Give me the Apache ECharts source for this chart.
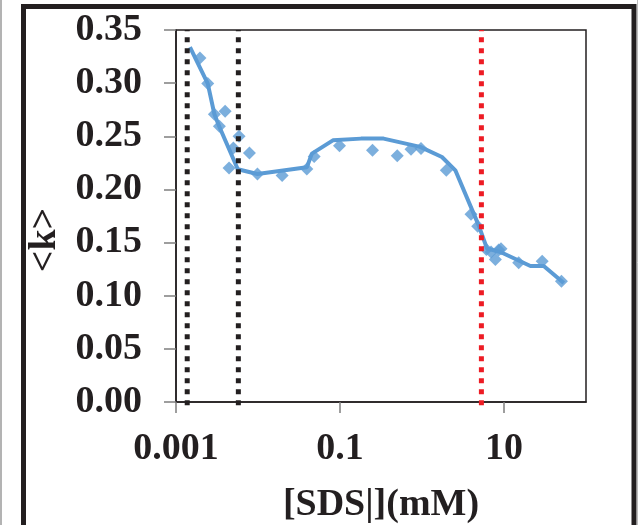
<!DOCTYPE html>
<html>
<head>
<meta charset="utf-8">
<script src="https://cdn.jsdelivr.net/npm/echarts@6/dist/echarts.min.js"></script>
<style>
  html, body { margin: 0; padding: 0; background: #ffffff; }
  #chart { width: 641px; height: 525px; }
</style>
</head>
<body>
<div id="chart"></div>
<script>
// Measured mean degree <k> versus SDS concentration (mM)
const sdsConc = [0.00196, 0.00244, 0.00294, 0.00397, 0.00338, 0.00501, 0.00588, 0.00444,
  0.00786, 0.00984, 0.0197, 0.0394, 0.0484, 0.0986, 0.249, 0.499, 0.734, 0.972,
  1.98, 3.96, 4.78, 6.10, 6.95, 7.85, 9.2, 8.6, 15.1, 29.2, 50.2];
const meanK = [0.3237, 0.2996, 0.2707, 0.2735, 0.2594, 0.2390, 0.2500, 0.2202,
  0.2343, 0.2145, 0.2130, 0.2192, 0.2309, 0.2412, 0.2368, 0.2318, 0.2377, 0.2384,
  0.2180, 0.1766, 0.1653, 0.1434, 0.1411, 0.1340, 0.1443, 0.1430, 0.1311, 0.1324, 0.1136];

// Trend line through the measurements
const trendConc = [0.00148, 0.00244, 0.00294, 0.00338, 0.00567, 0.00984, 0.0394, 0.0454,
  0.0819, 0.18, 0.34, 0.95, 1.75, 2.55, 4.91, 6.21, 9.04, 21.0, 30.5, 53.6];
const trendK = [0.334, 0.2996, 0.2707, 0.259, 0.219, 0.2145, 0.2208, 0.2337,
  0.2462, 0.2478, 0.2478, 0.240, 0.2305, 0.218, 0.1662, 0.1443, 0.1411, 0.128, 0.128, 0.112];

// Transition concentrations marked with dotted verticals
const blackMarks = [0.00137, 0.00576];
const redMarks = [5.3];
const markSpan = [-0.003, 0.35];

// Axis ticks
const xTicks = [0.001, 0.1, 10];

const ink = '#231f20';
const blue = '#5b9bd5';
const red = '#ed1c24';
const font = 'Liberation Serif';

// one dotted vertical series per marked concentration
function markSeries(x, color) {
  return {
    type: 'line',
    data: markSpan.map(y => [x, y]),
    symbol: 'none', showSymbol: false, silent: true, clip: false,
    lineStyle: { color: color, width: 5, type: [5, 6], cap: 'butt' },
    z: 5
  };
}

const chart = echarts.init(document.getElementById('chart'), null, { renderer: 'canvas' });

chart.setOption({
  backgroundColor: '#ffffff',
  animation: false,
  grid: {
    left: 176, top: 30, width: 410, height: 372,
    containLabel: false, outerBoundsMode: 'none',
    show: true, borderColor: ink, borderWidth: 1.5, backgroundColor: 'transparent'
  },
  xAxis: {
    type: 'log', logBase: 10, min: 0.001, max: 100,
    name: '[SDS|](mM)', nameLocation: 'middle', nameGap: 84,
    nameTextStyle: { fontFamily: font, fontWeight: 'bold', fontSize: 38, color: ink },
    axisLine: { show: true, onZero: false, lineStyle: { color: ink, width: 1.5 } },
    axisTick: { show: true, inside: false, length: 11, customValues: xTicks,
      lineStyle: { color: '#7f7f7f', width: 1.5 } },
    axisLabel: { customValues: xTicks, margin: 28, fontFamily: font, fontWeight: 'bold',
      fontSize: 38, color: ink, formatter: v => String(+v.toPrecision(6)) },
    splitLine: { show: false },
    minorTick: { show: false }
  },
  yAxis: {
    type: 'value', min: 0, max: 0.35, interval: 0.05,
    name: '<k>', nameLocation: 'middle', nameGap: 110,
    nameTextStyle: { fontFamily: font, fontWeight: 'bold', fontSize: 38, color: ink,
      padding: [0, 48, 0, 0] },
    axisLine: { show: true, lineStyle: { color: ink, width: 1.5 } },
    axisTick: { show: true, inside: false, length: 12, lineStyle: { color: '#7f7f7f', width: 1.5 } },
    axisLabel: { margin: 34, fontFamily: font, fontWeight: 'bold', fontSize: 38, color: ink,
      formatter: v => v.toFixed(2) },
    splitLine: { show: false }
  },
  series: [
    {
      type: 'line',
      data: trendConc.map((x, i) => [x, trendK[i]]),
      showSymbol: false, symbol: 'none', smooth: false,
      lineStyle: { color: blue, width: 4 },
      z: 2
    },
    {
      type: 'scatter',
      data: sdsConc.map((x, i) => [x, meanK[i]]),
      symbol: 'diamond', symbolSize: 13,
      itemStyle: { color: blue },
      z: 3
    }
  ].concat(blackMarks.map(x => markSeries(x, ink)))
   .concat(redMarks.map(x => markSeries(x, red))),
  graphic: [
    { type: 'rect', shape: { x: 23.5, y: 6.5, width: 610.5, height: 560 },
      style: { fill: 'none', stroke: ink, lineWidth: 5 }, z: 10 },
    { type: 'line', shape: { x1: 1, y1: 0, x2: 1, y2: 525 },
      style: { stroke: '#9a9a9a', lineWidth: 1.5 }, z: 10 },
    { type: 'line', shape: { x1: 637.5, y1: 0, x2: 637.5, y2: 525 },
      style: { stroke: '#bdbdbd', lineWidth: 1 }, z: 10 }
  ]
});
</script>
</body>
</html>
